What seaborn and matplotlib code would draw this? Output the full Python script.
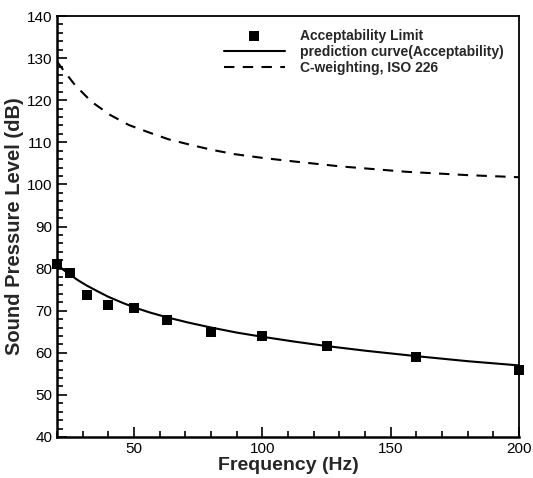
import matplotlib
matplotlib.use("Agg")
import matplotlib.pyplot as plt
import seaborn as sns
import pandas as pd
from matplotlib.ticker import MultipleLocator

# Measured acceptability limit (1/3 octave band centres)
freq_pts = [20, 25, 31.5, 40, 50, 63, 80, 100, 125, 160, 200]
spl_pts = [81.1, 79.0, 73.7, 71.4, 70.7, 67.9, 65.0, 63.9, 61.5, 58.9, 55.9]

# Prediction curve
freq_pred = [20, 22.5, 25, 28, 31.5, 35.5, 40, 45, 50, 56, 63, 71, 80, 90, 100,
             112, 125, 140, 160, 180, 200]
spl_pred = [81.0, 79.7, 78.6, 77.3, 76.0, 74.7, 73.3, 72.0, 70.8, 69.6, 68.4, 67.2,
            66.0, 64.8, 63.8, 62.7, 61.6, 60.5, 59.2, 58.0, 57.0]

# C-weighting, ISO 226 curve
freq_c = [20, 22, 27, 33.5, 40.7, 48, 56, 63.5, 72, 80.4, 89, 100, 110, 130, 156, 180, 200]
spl_c = [129.2, 127.5, 123.6, 119.6, 116.5, 114.1, 112.3, 110.7, 109.4, 108.2, 107.2,
         106.3, 105.6, 104.3, 103.0, 102.2, 101.7]

labels = ["Acceptability Limit", "prediction curve(Acceptability)", "C-weighting, ISO 226"]

sns.set_style("ticks")
plt.rcParams['font.family'] = ['Liberation Sans', 'DejaVu Sans']

fig = plt.figure(figsize=(5.33, 4.78), dpi=100)
ax = fig.add_axes([0.107, 0.0858, 0.867, 0.8807])

df_pts = pd.DataFrame({"f": freq_pts, "L": spl_pts})
df_pred = pd.DataFrame({"f": freq_pred, "L": spl_pred})
df_c = pd.DataFrame({"f": freq_c, "L": spl_c})

sns.scatterplot(data=df_pts, x="f", y="L", ax=ax, marker="s", s=55, color="black",
                edgecolor="black", linewidth=0, label=labels[0], zorder=4, clip_on=False)
sns.lineplot(data=df_pred, x="f", y="L", ax=ax, color="black", linewidth=1.5,
             label=labels[1], zorder=3)
sns.lineplot(data=df_c, x="f", y="L", ax=ax, color="black", linewidth=1.5,
             linestyle=(0, (5, 4)), label=labels[2], zorder=3)

ax.set_xlim(20, 200)
ax.set_ylim(40, 140)
ax.xaxis.set_major_locator(MultipleLocator(50))
ax.xaxis.set_minor_locator(MultipleLocator(10))
ax.yaxis.set_major_locator(MultipleLocator(10))
ax.yaxis.set_minor_locator(MultipleLocator(2))
ax.tick_params(which="both", direction="in", top=False, right=False,
               labelsize=11, width=1.2, colors="black")
ax.tick_params(which="major", length=7)
ax.tick_params(which="minor", length=4)
for sp in ax.spines.values():
    sp.set_linewidth(1.3)
    sp.set_color("black")
ax.spines["left"].set_linewidth(1.8)
ax.spines["bottom"].set_linewidth(1.8)

ax.set_xlabel("Frequency (Hz)", fontsize=14, fontweight="bold", labelpad=1)
ax.set_ylabel("Sound Pressure Level (dB)", fontsize=14.5, fontweight="bold", labelpad=2)

leg = ax.legend(loc="upper right", bbox_to_anchor=(0.985, 0.99), frameon=False,
                prop={"weight": "bold", "size": 10}, handlelength=4.4,
                handletextpad=1.1, labelspacing=0.15, borderaxespad=0.2)

fig.savefig("out.png", dpi=100)
